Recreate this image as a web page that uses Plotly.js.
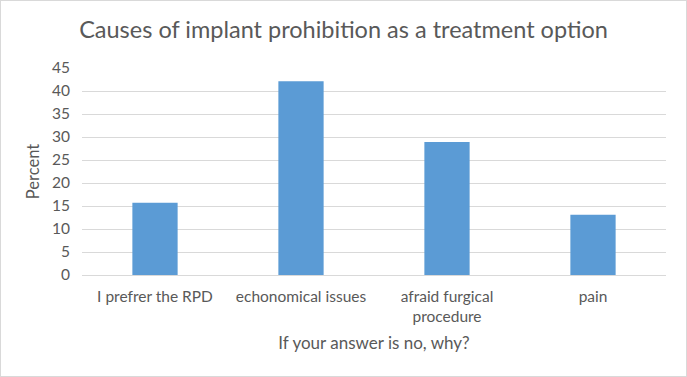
<!DOCTYPE html>
<html><head><meta charset="utf-8">
<script src="https://cdn.plot.ly/plotly-3.0.1.min.js"></script>
<style>html,body{margin:0;padding:0;background:#fff;}#wrap{position:relative;width:687px;height:377px;}#chart{width:687px;height:377px;}#frame{position:absolute;left:0;top:0;width:685px;height:375px;border:1px solid #d9d9d9;pointer-events:none;}</style>
</head><body>
<div id="wrap"><div id="chart"></div><div id="frame"></div></div>
<script>
const categories = ["I prefrer the RPD", "echonomical issues", "afraid furgical<br>procedure", "pain"];
const percent = [15.7, 42.1, 28.9, 13.1];
const yTicks = [0, 5, 10, 15, 20, 25, 30, 35, 40, 45];
const font = "Lato, 'Open Sans', sans-serif";
Plotly.newPlot('chart', [{
  type: 'bar', x: categories, y: percent,
  marker: {color: '#5b9bd5'}, width: 0.31, hoverinfo: 'none'
}], {
  width: 687, height: 377,
  margin: {l: 82, r: 21, t: 68, b: 102},
  paper_bgcolor: '#fff', plot_bgcolor: '#fff',
  font: {family: font, color: '#595959', size: 15.5},
  title: {text: 'Causes of implant prohibition as a treatment option', font: {size: 23.5, color: '#595959', family: font}, x: 0.5, xanchor: 'center', y: 0.92, yanchor: 'middle'},
  xaxis: {type: 'category', showline: true, linecolor: '#d9d9d9', ticks: '', showgrid: false,
    tickfont: {size: 15.5, color: '#595959'}, ticklabelstandoff: 7,
    title: {text: 'If your answer is no, why?', font: {size: 17, color: '#595959'}, standoff: 13}},
  yaxis: {range: [0, 45], tickvals: yTicks, showgrid: true, gridcolor: '#d9d9d9', zeroline: false, showline: false, ticks: '',
    tickfont: {size: 15.5, color: '#595959'}, ticklabelstandoff: 11,
    title: {text: 'Percent', font: {size: 16.5, color: '#595959'}, standoff: 8}},
  showlegend: false
}, {staticPlot: true});
</script>
</body></html>
